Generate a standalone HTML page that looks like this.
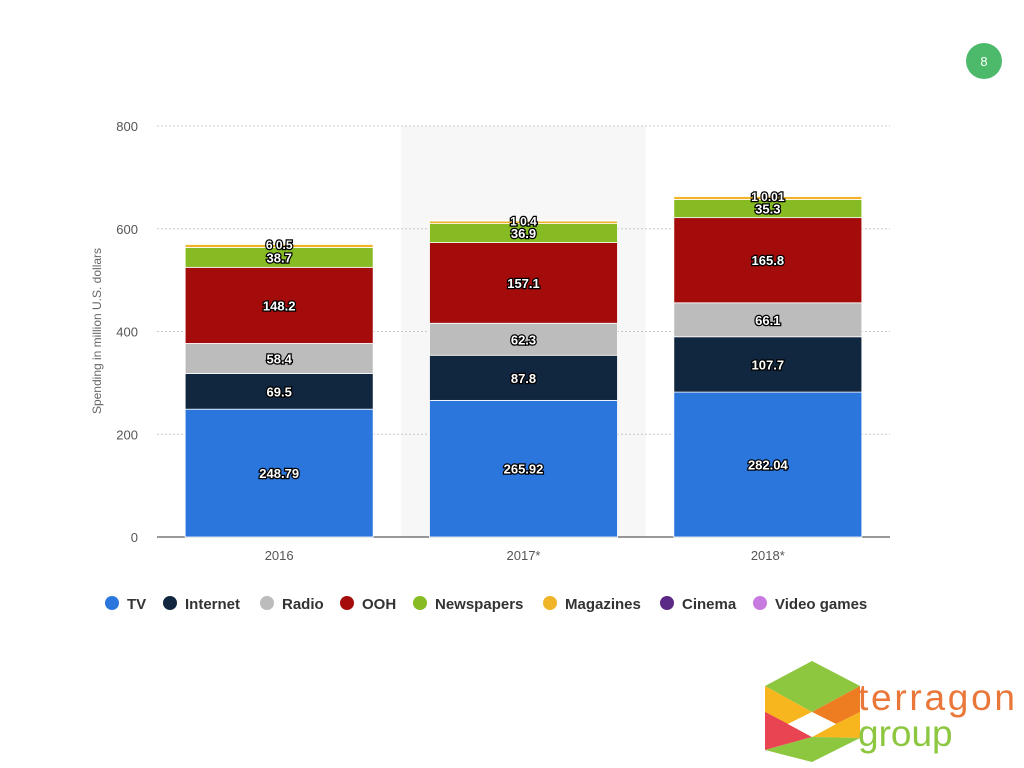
<!DOCTYPE html>
<html><head><meta charset="utf-8"><style>
body{margin:0;width:1024px;height:768px;background:#fff;font-family:"Liberation Sans",sans-serif;position:relative;overflow:hidden}
svg{position:absolute;left:0;top:0}
</style></head><body>
<svg width="1024" height="768">
<circle cx="984" cy="61" r="18" fill="#4cb96b"/>
<text x="984" y="66" font-size="13" fill="#fff" text-anchor="middle">8</text>
<g id="plot"></g>
<g id="legend"></g>
<g>
<polygon points="812,661 860,686 812,712 765,686" fill="#8dc63f"/>
<polygon points="765,686 812,712 788,724 765,712" fill="#f7b51e"/>
<polygon points="860,686 860,712 836,724 812,712" fill="#ee7d22"/>
<polygon points="765,712 788,724 765,750" fill="#e94452"/>
<polygon points="765,712 765,750 812,737 788,724" fill="#e94452"/>
<polygon points="836,724 860,712 860,738 812,737" fill="#f7b51e"/>
<polygon points="765,750 812,737 860,738 812,762" fill="#8dc63f"/>
<polygon points="788,724 812,712 836,724 812,737" fill="#fff"/>
<text x="858" y="710" font-size="37" fill="#e9773a" textLength="157">terragon</text>
<text x="858" y="746" font-size="37" fill="#8dc63f">group</text>
</g>
</svg>
<script>
const categories=["2016","2017*","2018*"];
const seriesNames=["TV","Internet","Radio","OOH","Newspapers","Magazines","Cinema","Video games"];
const tv=[248.79,265.92,282.04];
const internet=[69.5,87.8,107.7];
const radio=[58.4,62.3,66.1];
const ooh=[148.2,157.1,165.8];
const newspapers=[38.7,36.9,35.3];
const magazines=[6,5,6];
const cinema=[0.5,1,1];
const videoGames=[0,0.4,0.01];
const topLabels=["6 0.5","1 0.4","1 0.01"];
const yTicks=[0,200,400,600,800];
const colors=["#2a76dd","#11263f","#bcbcbc","#a40c0c","#86bb24","#f0b428","#5b2a86","#c77be0"];
const series=[tv,internet,radio,ooh,newspapers,magazines,cinema,videoGames];
const NS="http://www.w3.org/2000/svg";
const g=document.getElementById('plot');
const X0=157,X1=890,Y0=537,Y1=126,YMAX=800;
const y=v=>Y0-(v/YMAX)*(Y0-Y1);
const band=(X1-X0)/categories.length;
const xc=i=>X0+band*(i+0.5);
function el(t,a,p){const e=document.createElementNS(NS,t);for(const k in a)e.setAttribute(k,a[k]);(p||g).appendChild(e);return e;}
let sh=el('rect',{x:X0+band,y:Y1,width:band,height:Y0-Y1,fill:'#f7f7f7'});


yTicks.forEach(t=>{
 let l=el('line',{x1:X0,x2:X1,y1:y(t),y2:y(t),stroke:t?'#c8c8c8':'#333','stroke-dasharray':t?'2,2':'','stroke-width':1});
 
 
 let tx=el('text',{x:138,y:y(t)+5,'font-size':13,fill:'#555','text-anchor':'end'});tx.textContent=t;
 
 
});
let yt=el('text',{x:101,y:331,'font-size':12,fill:'#666','text-anchor':'middle',transform:'rotate(-90 101 331)'});
yt.textContent='Spending in million U.S. dollars';


const bw=188;
categories.forEach((c,i)=>{
 let acc=0;
 series.forEach((s,k)=>{
  const v=s[i];if(!v)return;
  const r=el('rect',{x:xc(i)-bw/2,y:y(acc+v),width:bw,height:y(acc)-y(acc+v),fill:colors[k],stroke:'#fff','stroke-width':0.8});
  
  
  if(k<5){
   const t=el('text',{x:xc(i),y:(y(acc)+y(acc+v))/2+5,'font-size':13,'font-weight':'bold',fill:'#fff','text-anchor':'middle',stroke:'#000','stroke-width':2.5,'paint-order':'stroke'});
   t.textContent=v;
   
   
  }
  acc+=v;
 });
 const t=el('text',{x:xc(i),y:y(acc)+5,'font-size':12,'font-weight':'bold',fill:'#fff','text-anchor':'middle',stroke:'#000','stroke-width':2.5,'paint-order':'stroke'});
 t.textContent=topLabels[i];
 
 
 const xl=el('text',{x:xc(i),y:560,'font-size':13,fill:'#555','text-anchor':'middle'});
 xl.textContent=c;
 
 
});
const lg=document.getElementById('legend');
const lx=[112,170,267,347,420,550,667,760];
seriesNames.forEach((n,k)=>{
 const c=el('circle',{cx:lx[k],cy:603,r:7,fill:colors[k]},lg);
 
 
 const t=el('text',{x:lx[k]+15,y:609,'font-size':15,'font-weight':'bold',fill:'#333'},lg);
 t.textContent=n;
 
 
});
</script>
</body></html>
